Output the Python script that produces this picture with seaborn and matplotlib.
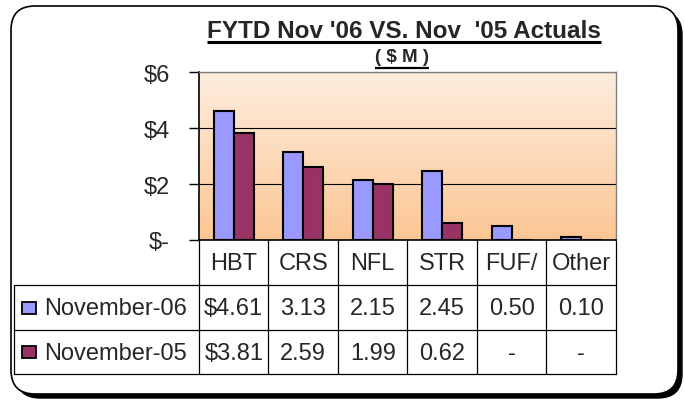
import numpy as np
import pandas as pd
import matplotlib
matplotlib.use('Agg')
import matplotlib.pyplot as plt
import seaborn as sns
from matplotlib.patches import FancyBboxPatch, Rectangle
from matplotlib.ticker import FuncFormatter

categories = ['HBT', 'CRS', 'NFL', 'STR', 'FUF/', 'Other']
series = ['November-06', 'November-05']
nov06 = [4.61, 3.13, 2.15, 2.45, 0.50, 0.10]
nov05 = [3.81, 2.59, 1.99, 0.62, 0.0, 0.0]
colors = ['#9999FF', '#993366']
yticks = [0, 2, 4, 6]

df = pd.DataFrame({
    'cat': categories * 2,
    'val': nov06 + nov05,
    'series': [series[0]] * len(categories) + [series[1]] * len(categories),
})

sns.set_theme(style='white')
plt.rcParams['font.family'] = ['Liberation Sans', 'DejaVu Sans']

W, H = 685, 402
fig = plt.figure(figsize=(W / 100, H / 100), dpi=100)

# overlay axes in pixel coords for frame, titles and data table
ax0 = fig.add_axes([0, 0, 1, 1])
ax0.set_xlim(0, W)
ax0.set_ylim(H, 0)
ax0.axis('off')

ax0.add_patch(FancyBboxPatch((16, 12), 666, 387, boxstyle='round,pad=0,rounding_size=24',
                             fc='black', ec='black', lw=1))
ax0.add_patch(FancyBboxPatch((11, 7), 667, 388, boxstyle='round,pad=0,rounding_size=24',
                             fc='white', ec='black', lw=1.2))

# plot area
pl, pr, pt, pb = 199, 616, 73, 241
ax = fig.add_axes([pl / W, 1 - pb / H, (pr - pl) / W, (pb - pt) / H])
sns.barplot(data=df, x='cat', y='val', hue='series', palette=colors, ax=ax,
            edgecolor='black', linewidth=1.5, width=0.58, saturation=1, legend=False)

top = np.array([254, 237, 222]) / 255
bot = np.array([251, 198, 148]) / 255
grad = np.linspace(0, 1, 256)[:, None, None]
img = top * (1 - grad) + bot * grad
ax.imshow(img, extent=[-0.5, len(categories) - 0.5, 0, 6], aspect='auto', zorder=0)
ax.set_xlim(-0.5, len(categories) - 0.5)
ax.set_ylim(0, 6)
ax.set_yticks(yticks)
ax.yaxis.set_major_formatter(FuncFormatter(lambda v, p: '$-' if v == 0 else f'${v:.0f}'))
ax.set_axisbelow(True)
ax.yaxis.grid(True, color='black', lw=0.8)
ax.tick_params(axis='y', left=True, length=7, width=1, color='black', labelsize=17, pad=14)
ax.tick_params(axis='x', bottom=False, labelbottom=False)
ax.set_xlabel('')
ax.set_ylabel('')
for s in ['left', 'bottom']:
    ax.spines[s].set_color('black')
    ax.spines[s].set_linewidth(1.2)
for s in ['top', 'right']:
    ax.spines[s].set_color('#808080')
    ax.spines[s].set_linewidth(1)

# data table
n = len(categories)
edges = [pl + i * (pr - pl) / n for i in range(n + 1)]
r0, r1, r2 = 286, 331, 375
tleft = 14
lk = dict(color='black', lw=0.9)
for x in edges:
    ax0.plot([x, x], [pb, r2], **lk)
ax0.plot([tleft, tleft], [r0, r2], **lk)
for y in [r0, r1, r2]:
    ax0.plot([tleft, pr], [y, y], **lk)

for i, c in enumerate(categories):
    ax0.text((edges[i] + edges[i + 1]) / 2, (pb + r0) / 2 + 1, c, ha='center', va='center', fontsize=17)

def fmt(v, i):
    if v == 0:
        return '-'
    return f'${v:.2f}' if i == 0 else f'{v:.2f}'

for vals, yc, name, col in [(nov06, (r0 + r1) / 2, series[0], colors[0]),
                            (nov05, (r1 + r2) / 2, series[1], colors[1])]:
    ax0.add_patch(Rectangle((22, yc - 6), 14, 12, fc=col, ec='black', lw=1.3))
    ax0.text(44, yc + 1, name, ha='left', va='center', fontsize=17)
    for i, v in enumerate(vals):
        ax0.text((edges[i] + edges[i + 1]) / 2, yc + 1, fmt(v, i), ha='center', va='center', fontsize=17)

# titles with underline
t1 = ax0.text(404, 32, "FYTD Nov '06 VS. Nov  '05 Actuals", ha='center', va='center',
              fontsize=17.5, fontweight='bold')
t2 = ax0.text(402, 58, '( $ M )', ha='center', va='center', fontsize=13.5, fontweight='bold')
fig.canvas.draw()
r = fig.canvas.get_renderer()
for t, yu, lw in [(t1, 43, 2.2), (t2, 69, 1.6)]:
    bb = t.get_window_extent(r)
    ax0.plot([bb.x0, bb.x1], [yu, yu], color='black', lw=lw, solid_capstyle='butt')

fig.savefig('out.png', dpi=100)
